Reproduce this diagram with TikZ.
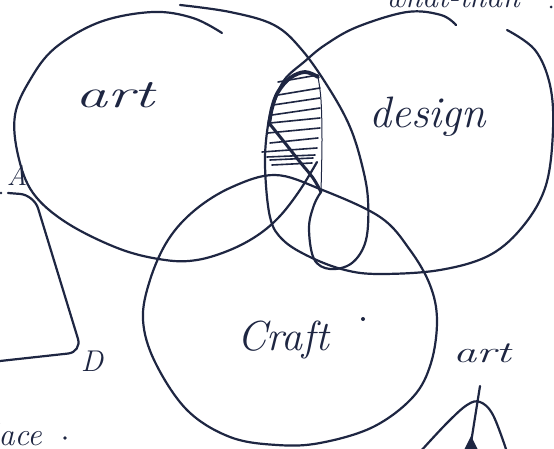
\documentclass[tikz,border=0pt]{standalone}
\usepackage{graphicx}
\definecolor{ink}{RGB}{30,38,66}
\tikzset{
  pen/.style={draw=ink, line width=2.2pt, line cap=round, line join=round},
  thickpen/.style={draw=ink, line width=3.8pt, line cap=round, line join=round},
  hatchline/.style={draw=ink, line width=1.6pt, line cap=round},
  hand/.style={text=ink, inner sep=0pt, font=\itshape}
}
\begin{document}
\begin{tikzpicture}[x=1pt,y=-1pt]
\useasboundingbox (0,0) rectangle (554,449);
\fill[white] (0,0) rectangle (554,449);

% art circle (two strokes)
\draw[pen] plot[smooth,tension=0.6] coordinates {(222,33) (193,18) (153,12) (100,22) (55,48) (30,80) (15,115) (18,155) (33,193) (67,223) (120,249) (165,260) (197,260) (230,250) (258,235) (280,216) (300,190) (317,162)};
\draw[pen] plot[smooth,tension=0.6] coordinates {(180,5) (230,12) (274,25) (302,50) (330,90) (350,127) (362,165) (368,200) (366,240) (352,263) (330,269) (314,259) (309,228) (314,205) (321,192)};

% design circle
\draw[pen] plot[smooth,tension=0.6] coordinates {(507,30) (535,50) (550,85) (553,130) (546,185) (524,225) (490,255) (440,270) (380,274) (345,270) (310,257) (283,240) (270,217) (265,165) (268,125) (275,100) (285,79) (304,62) (325,45) (357,27) (407,12) (441,15) (456,25)};

% craft circle
\draw[pen] plot[smooth cycle,tension=0.6] coordinates {(275,175) (320,189) (380,217) (410,250) (430,285) (437,320) (431,363) (413,397) (373,427) (320,443) (277,445) (230,437) (187,410) (155,362) (143,320) (150,280) (168,240) (195,210) (232,187)};

% hatched region
\draw[thickpen] plot[smooth,tension=0.6] coordinates {(269,125) (272,108) (278,92) (290,78) (305,72) (318,77)};
\draw[thickpen, line width=3pt] plot[smooth,tension=0.6] coordinates {(269,123) (285,143) (300,162) (313,178) (321,192)};
\draw[draw=ink, line width=1pt] plot[smooth,tension=0.6] coordinates {(318,77) (321,100) (322,140) (321,192)};
\foreach \xa/\ya/\xb/\yb in {278/82/318/75, 278/95/320/88, 273/105/320/98, 272/115/320/108, 270/123/320/118, 268/133/320/128, 270/143/318/138, 262/152/317/148, 267/157/315/155, 270/160/313/158, 272/165/312/163}
  \draw[hatchline] (\xa,\ya) -- (\xb,\yb);

% labels
\node[hand, anchor=base west, font=\itshape\fontsize{40}{40}\selectfont] (artlabel) at (75,108) {\scalebox{1.6}[1]{art}};
\node[hand, anchor=base west, font=\itshape\fontsize{44}{44}\selectfont] (designlabel) at (369,128) {design};
\node[hand, anchor=base west, font=\itshape\fontsize{42}{42}\selectfont] (craftlabel) at (237,350) {Craft};
\fill[ink] (363,319) circle (2pt);
\node[hand, anchor=base west, font=\itshape\fontsize{30}{30}\selectfont] (artsmall) at (453,362) {\scalebox{1.55}[1]{art}};
\node[hand, font=\itshape\fontsize{28}{28}\selectfont] (alabel) at (17,176) {A};
\node[hand, font=\itshape\fontsize{30}{30}\selectfont] (dlabel) at (92,361) {D};
\node[hand, anchor=base east, font=\itshape\fontsize{32}{32}\selectfont] (lacelabel) at (42,445) {lace};
\fill[ink] (65,438) circle (1.8pt);
\node[hand, anchor=base west, font=\itshape\fontsize{32}{32}\selectfont] (toplabel) at (385,8) {what-than};
\fill[ink] (551,7) circle (1.5pt);

% left bracket
\fill[ink] (1,193) circle (1.3pt);
\draw[pen, rounded corners=14pt] (8,193) -- (34,195) -- (82,352) -- (0,361);

% bottom right sketch
\coordinate (stemtop) at (480,386);
\coordinate (stembot) at (470,449);
\draw[pen] plot[smooth,tension=0.6] coordinates {(420,452) (447,423) (467,405) (480,402) (493,415) (507,452)};
\draw[pen] (stemtop) -- (stembot);
\fill[ink] (464,450) -- (471,436) -- (478,450) -- cycle;
\end{tikzpicture}
\end{document}
